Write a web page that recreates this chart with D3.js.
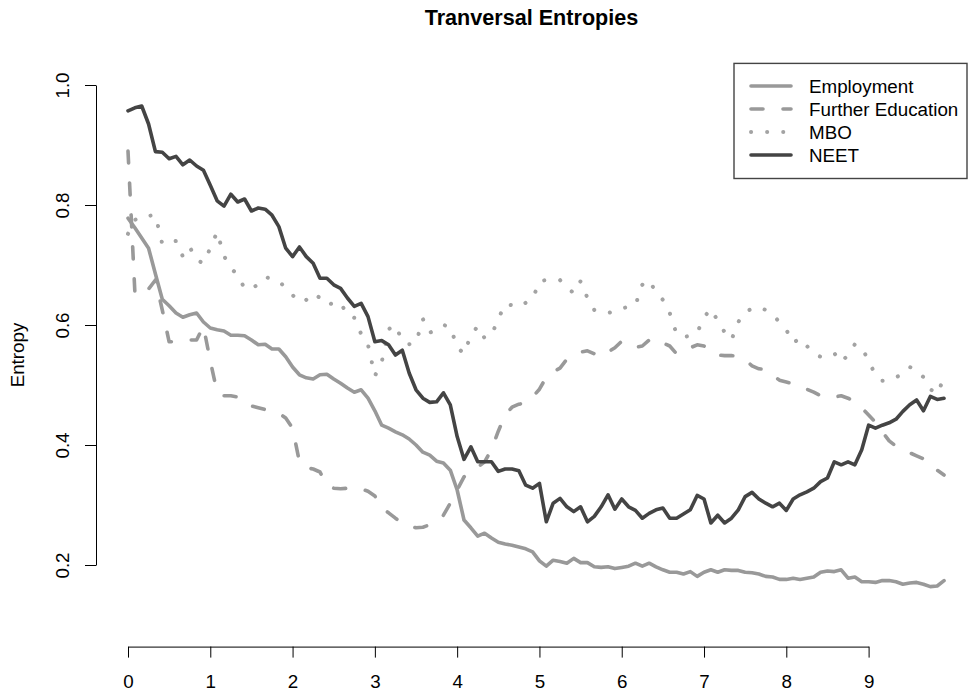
<!DOCTYPE html>
<html>
<head>
<meta charset="utf-8">
<script src="https://cdn.jsdelivr.net/npm/d3@7"></script>
<style>
  html, body { margin: 0; padding: 0; background: #fff; }
  svg { display: block; font-family: "Liberation Sans", Arial, Helvetica, sans-serif; }
</style>
</head>
<body>
<svg id="chart" width="969" height="693"></svg>
<script>
// Monthly transversal entropies, month index 0..119 (x axis in years)
const months = d3.range(120);

const employment = [
  0.778,0.762,0.745,0.728,0.685,0.643,0.632,0.620,0.613,0.617,
  0.620,0.605,0.595,0.592,0.590,0.583,0.583,0.582,0.575,0.567,
  0.568,0.560,0.560,0.547,0.530,0.517,0.512,0.510,0.517,0.518,
  0.510,0.503,0.495,0.488,0.492,0.478,0.457,0.433,0.428,0.422,
  0.417,0.410,0.400,0.388,0.383,0.373,0.370,0.358,0.325,0.275,
  0.262,0.248,0.253,0.245,0.238,0.235,0.233,0.230,0.227,0.222,
  0.207,0.198,0.208,0.206,0.203,0.211,0.204,0.204,0.197,0.196,
  0.197,0.194,0.196,0.198,0.203,0.198,0.203,0.197,0.192,0.188,
  0.188,0.185,0.189,0.181,0.188,0.192,0.188,0.192,0.191,0.191,
  0.188,0.187,0.185,0.181,0.180,0.176,0.176,0.178,0.176,0.178,
  0.180,0.188,0.190,0.189,0.192,0.178,0.180,0.172,0.172,0.171,
  0.174,0.174,0.172,0.168,0.170,0.171,0.168,0.164,0.165,0.174
];

const furtherEducation = [
  0.890,0.655,0.648,0.660,0.675,0.625,0.572,0.572,0.573,0.575,
  0.575,0.598,0.540,0.488,0.482,0.482,0.480,0.468,0.465,0.462,
  0.459,0.457,0.453,0.445,0.428,0.372,0.362,0.360,0.355,0.333,
  0.328,0.327,0.328,0.329,0.327,0.323,0.315,0.295,0.287,0.278,
  0.270,0.265,0.262,0.263,0.267,0.273,0.283,0.303,0.325,0.347,
  0.357,0.363,0.372,0.392,0.423,0.450,0.463,0.468,0.470,0.480,
  0.493,0.513,0.522,0.528,0.543,0.550,0.555,0.557,0.552,0.547,
  0.555,0.562,0.573,0.567,0.563,0.565,0.575,0.567,0.570,0.565,
  0.552,0.555,0.562,0.567,0.565,0.553,0.550,0.549,0.549,0.548,
  0.542,0.532,0.527,0.526,0.517,0.508,0.505,0.502,0.497,0.493,
  0.488,0.482,0.480,0.480,0.482,0.478,0.472,0.462,0.450,0.438,
  0.422,0.407,0.398,0.392,0.387,0.382,0.377,0.371,0.358,0.350
];

const mbo = [
  0.752,0.775,0.782,0.782,0.783,0.735,0.738,0.740,0.714,0.730,
  0.708,0.703,0.728,0.755,0.715,0.695,0.683,0.661,0.660,0.668,
  0.680,0.677,0.673,0.662,0.650,0.638,0.642,0.653,0.645,0.633,
  0.637,0.638,0.615,0.612,0.585,0.567,0.515,0.538,0.593,0.600,
  0.573,0.568,0.570,0.610,0.587,0.593,0.600,0.597,0.563,0.552,
  0.583,0.598,0.578,0.583,0.610,0.635,0.633,0.630,0.637,0.643,
  0.673,0.675,0.675,0.675,0.663,0.653,0.673,0.645,0.625,0.622,
  0.620,0.623,0.628,0.630,0.633,0.667,0.675,0.654,0.642,0.620,
  0.585,0.580,0.582,0.587,0.613,0.627,0.607,0.588,0.575,0.605,
  0.622,0.627,0.630,0.625,0.617,0.605,0.592,0.570,0.578,0.565,
  0.553,0.547,0.550,0.553,0.538,0.550,0.568,0.563,0.540,0.517,
  0.507,0.508,0.513,0.518,0.530,0.525,0.513,0.493,0.485,0.512
];

const neet = [
  0.957,0.962,0.965,0.935,0.889,0.888,0.877,0.881,0.867,0.875,
  0.865,0.858,0.833,0.807,0.798,0.818,0.805,0.810,0.790,0.795,
  0.793,0.783,0.764,0.728,0.714,0.730,0.714,0.703,0.678,0.678,
  0.667,0.661,0.645,0.631,0.636,0.614,0.572,0.574,0.567,0.550,
  0.558,0.520,0.492,0.478,0.471,0.472,0.487,0.467,0.414,0.376,
  0.397,0.372,0.372,0.372,0.356,0.360,0.360,0.357,0.333,0.328,
  0.336,0.272,0.303,0.311,0.297,0.289,0.297,0.272,0.281,0.297,
  0.317,0.293,0.310,0.297,0.291,0.278,0.286,0.292,0.295,0.278,
  0.278,0.285,0.292,0.316,0.310,0.270,0.283,0.270,0.278,0.292,
  0.314,0.321,0.310,0.303,0.297,0.303,0.291,0.310,0.317,0.322,
  0.328,0.339,0.345,0.372,0.367,0.372,0.367,0.392,0.433,0.428,
  0.433,0.437,0.443,0.456,0.467,0.475,0.457,0.481,0.476,0.478
];

const seriesNames = ["Employment", "Further Education", "MBO", "NEET"];
const seriesColors = ["#999999", "#999999", "#a3a3a3", "#444444"];
const seriesDashes = [null, "12,20", "0.1,16", null];
const xTicks = [0, 1, 2, 3, 4, 5, 6, 7, 8, 9];
const yTicks = [0.2, 0.4, 0.6, 0.8, 1.0];
const titleText = "Tranversal Entropies";
const yLabel = "Entropy";

const series = [employment, furtherEducation, mbo, neet];
const baseFont = 18.8;

const svg = d3.select("#chart");

// Plot region (extends a little past the tick range on every side)
const plot = { left: 96, right: 967, top: 63.4, bottom: 646.6 };

const x = d3.scaleLinear().domain([0, 9]).range([128, 868.6]);
const y = d3.scaleLinear().domain([0.2, 1.0]).range([565, 85]);

// Title
svg.append("text")
  .attr("x", (plot.left + plot.right) / 2)
  .attr("y", 25)
  .attr("text-anchor", "middle")
  .attr("font-size", 21.6)
  .attr("font-weight", "bold")
  .attr("fill", "#000")
  .text(titleText);

// Lines
const line = d3.line()
  .x((d, i) => x(months[i] / 12))
  .y(d => y(d));

series.forEach((vals, k) => {
  const p = svg.append("path")
    .datum(vals)
    .attr("d", line)
    .attr("fill", "none")
    .attr("stroke", seriesColors[k])
    .attr("stroke-width", k === 2 ? 4 : 3.6)
    .attr("stroke-linejoin", "round")
    .attr("stroke-linecap", "round");
  if (seriesDashes[k]) p.attr("stroke-dasharray", seriesDashes[k]);
});

// X axis
const xAxis = svg.append("g")
  .attr("transform", `translate(0,${plot.bottom})`)
  .call(d3.axisBottom(x).tickValues(xTicks).tickFormat(d3.format("d"))
    .tickSize(11).tickSizeOuter(0).tickPadding(17));
xAxis.selectAll("text").attr("font-size", baseFont).attr("fill", "#000")
  .attr("font-family", "Liberation Sans, Arial, sans-serif");
xAxis.selectAll("line, path").attr("stroke", "#000").attr("stroke-width", 1);

// Y axis with labels rotated parallel to the axis
const yAxis = svg.append("g")
  .attr("transform", `translate(${plot.left},0)`)
  .call(d3.axisLeft(y).tickValues(yTicks).tickFormat(d3.format(".1f"))
    .tickSize(11).tickSizeOuter(0));
yAxis.selectAll("line, path").attr("stroke", "#000").attr("stroke-width", 1);
yAxis.selectAll("text")
  .attr("font-size", baseFont).attr("fill", "#000")
  .attr("font-family", "Liberation Sans, Arial, sans-serif")
  .attr("transform", "rotate(-90)")
  .attr("x", 0).attr("y", -27).attr("dy", null)
  .attr("text-anchor", "middle");

svg.append("text")
  .attr("transform", `translate(24,${(plot.top + plot.bottom) / 2}) rotate(-90)`)
  .attr("text-anchor", "middle")
  .attr("font-size", baseFont)
  .attr("fill", "#000")
  .text(yLabel);

// Legend, top-right corner of the plot region
const legend = svg.append("g");
legend.append("rect")
  .attr("x", 734).attr("y", plot.top)
  .attr("width", plot.right - 734).attr("height", 178.5 - plot.top)
  .attr("fill", "#fff").attr("stroke", "#444").attr("stroke-width", 1.4);

seriesNames.forEach((name, k) => {
  const ly = 86 + k * 23;
  const l = legend.append("line")
    .attr("x1", 751).attr("x2", 791).attr("y1", ly).attr("y2", ly)
    .attr("stroke", seriesColors[k]).attr("stroke-width", k === 2 ? 4 : 3.6)
    .attr("stroke-linecap", "round");
  if (seriesDashes[k]) l.attr("stroke-dasharray", seriesDashes[k]);
  legend.append("text")
    .attr("x", 809).attr("y", ly).attr("dy", "0.35em")
    .attr("font-size", baseFont).attr("fill", "#000")
    .text(name);
});
</script>
</body>
</html>
